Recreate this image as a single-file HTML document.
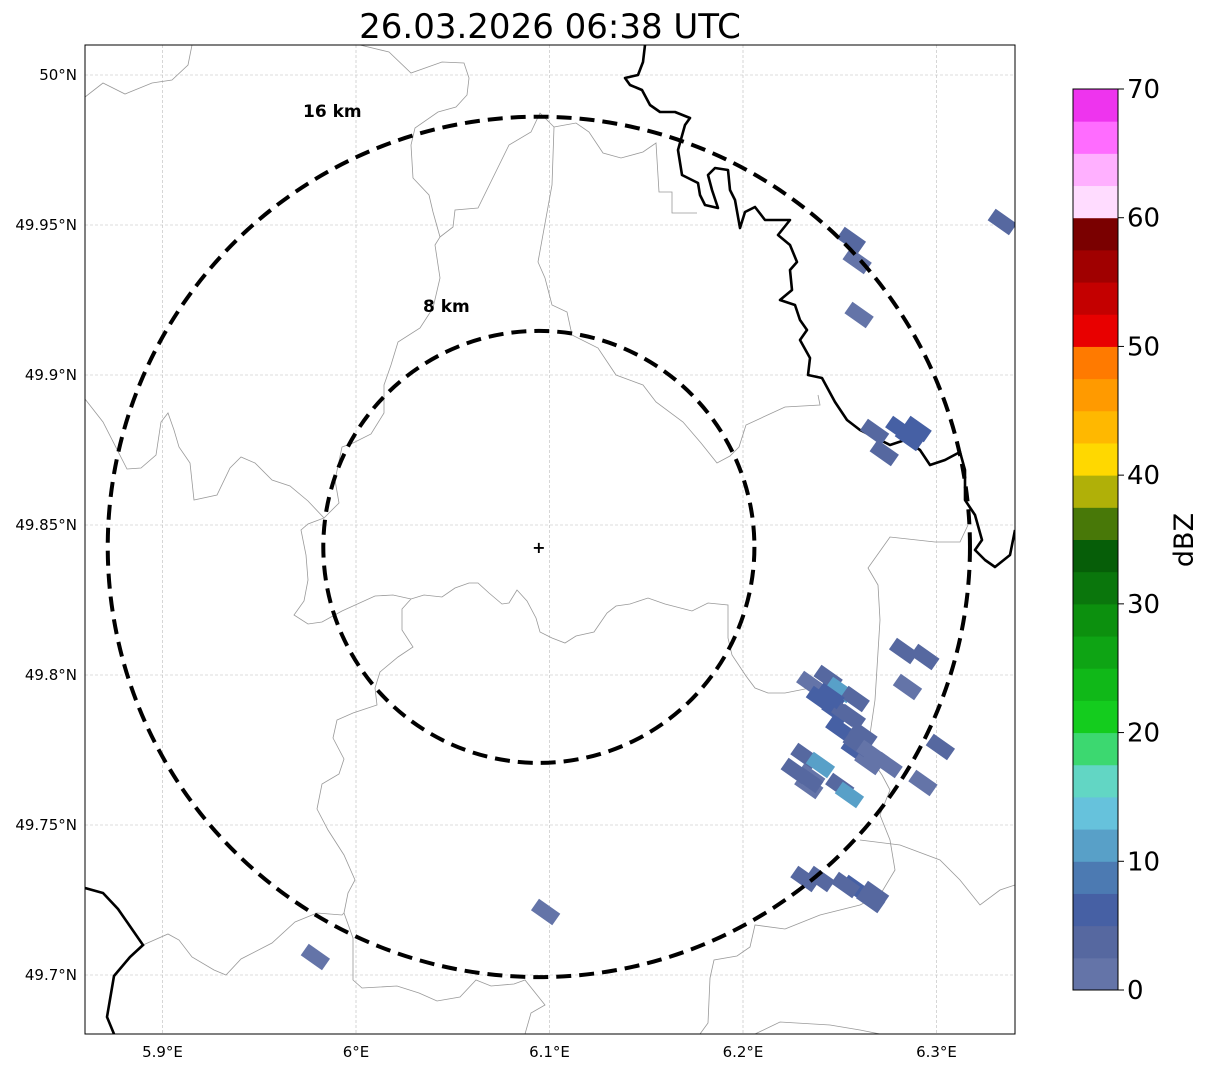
<!DOCTYPE html>
<html><head><meta charset="utf-8">
<style>
html,body{margin:0;padding:0;background:#fff;}
body{width:1207px;height:1069px;overflow:hidden;font-family:"DejaVu Sans","Liberation Sans",sans-serif;}
</style></head>
<body>
<svg id="chart" width="1207" height="1069" xmlns="http://www.w3.org/2000/svg" style="font-family:'DejaVu Sans','Liberation Sans',sans-serif">
<text x="550" y="38" font-size="34" text-anchor="middle">26.03.2026 06:38 UTC</text>
<defs><clipPath id="mapclip"><rect x="85" y="45" width="930" height="989"/></clipPath></defs>
<g id="map" clip-path="url(#mapclip)">
  <g id="grid"></g>
  <g id="borders" fill="none" stroke="#999" stroke-width="0.8">
    <polyline points="85,97 103,83 125,94 152,83 172,80 188,65 192,45"/>
    <polyline points="360,45 389,52 411,73 442,62 464,63 469,78 467,95 456,107 438,112 415,128 411,145 413,178 429,195 433,212 440,237 435,245 440,278 433,308 420,328 398,342 391,365 384,385 384,413 371,434 353,443 342,447 335,480 339,503 324,518"/>
    <polyline points="440,237 453,227 455,210 478,208 509,145 531,132 540,113 554,127 552,185 538,262 545,278 552,305 567,312 572,335 598,348 616,375 643,385 656,402 683,422 701,443 717,463 730,456 739,447 746,425 785,407 820,405 818,395"/>
    <polyline points="554,127 576,123 589,132 603,153 621,158 643,152 656,143 659,192 672,192 672,213 697,213"/>
    <polyline points="85,399 103,422 127,469 141,468 156,455 161,422 168,413 174,430 179,447 190,463 194,500 217,495 230,468 241,457 255,463 272,480 290,486 308,501 324,518 308,524 301,530 306,555 308,580 304,601 294,615 308,624 322,622 342,611 375,596 393,595 411,599 424,595 442,597 455,588 469,583 478,583 489,593 502,604 509,603 517,590 527,601 536,618 540,632 552,638 565,643 576,636 594,632 607,613 616,606 630,604 648,598 665,604 692,611 708,603 728,605 728,638 732,655 746,676 755,688 768,693 785,693"/>
    <polyline points="411,599 402,609 402,630 413,647 398,657 380,672 375,688 377,705 353,713 337,720 333,738 344,759 339,774 322,784 317,809 328,830 344,855 355,880 348,893 344,913 353,938 353,980 362,988 397,986 419,993 437,1001 460,997 476,980 491,986 514,984 525,980 545,1005 531,1013 525,1034"/>
    <polyline points="143,945 168,934 179,940 192,957 214,970 226,975 241,959 272,943 295,922 317,913 342,915 344,913"/>
    <polyline points="785,929 755,925 750,947 737,956 714,960 710,978 708,1023 700,1034"/>
    <polyline points="755,1034 780,1022 830,1025 860,1030 880,1034"/>
    <polyline points="785,929 820,915 860,905 880,895 895,870 890,840 880,815 890,790 882,775 872,760 868,748 875,700 880,620 878,585 868,568 890,537 935,542 960,542 968,525"/>
    <polyline points="785,693 810,688 840,700 868,748"/>
    <polyline points="860,840 900,845 940,860 960,880 980,905 1000,890 1015,885"/>
  </g>
  <polyline fill="none" stroke="#000" stroke-width="2.6" stroke-linejoin="round" points="645,45 643,62 638,75 625,78 630,85 642,90 650,105 660,112 675,112 690,118 685,125 678,150 682,175 698,183 700,195 705,205 718,208 712,190 708,175 715,168 728,170 730,190 735,200 740,228 745,212 755,207 765,220 790,220 778,235 790,245 797,262 790,270 792,290 780,300 795,305 800,320 807,330 800,340 810,358 808,375 822,378 835,402 847,420 860,430 870,435 890,445 905,440 920,450 930,465 945,460 960,452 965,470 965,500 975,515 982,540 975,550 985,560 995,567 1010,555 1015,530"/>
  <polyline fill="none" stroke="#000" stroke-width="2.6" points="85,888 103,893 118,909 143,945 130,957 114,976 107,1017 114,1034"/>
  <g id="cells"></g>
  <g id="rings"></g>
</g>
<rect x="85" y="45" width="930" height="989" fill="none" stroke="#000" stroke-width="1"/>
<g id="axes" font-size="15"></g>
<g id="cbar"></g>
<text x="1193" y="540" font-size="27" text-anchor="middle" transform="rotate(-90 1193 540)">dBZ</text>
</svg>
<script>
const lonTicks = [5.9, 6.0, 6.1, 6.2, 6.3];
const lonLabels = ["5.9°E", "6°E", "6.1°E", "6.2°E", "6.3°E"];
const latTicks = [49.7, 49.75, 49.8, 49.85, 49.9, 49.95, 50.0];
const latLabels = ["49.7°N", "49.75°N", "49.8°N", "49.85°N", "49.9°N", "49.95°N", "50°N"];
const radarLon = 6.0945, radarLat = 49.8427;
const ringKm = [8, 16];
const ringLatR = [0.072, 0.1434];
const ringLonR = [0.1114, 0.2228];
const cellLon = [6.334,6.256,6.259,6.260,6.281,6.286,6.268,6.273,6.283,6.294,6.285,6.235,6.244,6.250,6.258,6.248,6.250,6.256,6.232,6.240,6.235,6.258,6.265,6.250,6.234,6.255,6.275,6.302,6.293,6.232,6.258,6.266,6.098,5.979,6.245,6.262,6.240,6.253,6.245,6.227,6.234,6.259,6.266,6.290,6.240,6.253,6.268];
const cellLat = [49.951,49.945,49.938,49.920,49.882,49.879,49.881,49.874,49.808,49.806,49.796,49.797,49.799,49.795,49.792,49.788,49.782,49.786,49.773,49.770,49.766,49.775,49.771,49.763,49.763,49.760,49.770,49.776,49.764,49.732,49.729,49.725,49.721,49.706,49.792,49.780,49.792,49.787,49.793,49.768,49.765,49.777,49.774,49.882,49.732,49.730,49.727];
const cellDbz = [4,3,2,2,6,5,3,3,3,3,2,2,4,12,3,6,5,4,4,12,2,5,2,3,2,10,2,3,2,3,5,3,2,1,6,4,5,4,6,3,4,3,2,6,3,4,3];
const cbLevels = [0,2.5,5,7.5,10,12.5,15,17.5,20,22.5,25,27.5,30,32.5,35,37.5,40,42.5,45,47.5,50,52.5,55,57.5,60,62.5,65,67.5];
const cbColors = ["#6474a8","#5668a0","#4660a4","#4c7ab2","#58a0c8","#66c2dc","#62d6c4","#3cd870","#14cc1e","#10b818","#0ea414","#0c900e","#0a760c","#065e08","#487808","#b0b008","#ffd800","#ffb800","#ff9a00","#ff7a00","#e80000","#c40000","#a00000","#7a0000","#ffdcff","#ffb0ff","#ff6cff","#ee34ee"];
const cbTicks = [0,10,20,30,40,50,60,70];

const NS = "http://www.w3.org/2000/svg";
const X = lon => 356 + (lon - 6.0) * 1935;
const Y = lat => 525 - (lat - 49.85) * 3000;
const CB = v => 990 - v / 70 * 901;
function mk(tag, attrs, parent){const e=document.createElementNS(NS,tag);for(const k in attrs)e.setAttribute(k,attrs[k]);parent.appendChild(e);return e;}

const grid = document.getElementById('grid');
lonTicks.forEach(v=>{const l=mk('line',{x1:X(v),x2:X(v),y1:45,y2:1034,stroke:'#bbb','stroke-width':0.6,'stroke-dasharray':'3,2'},grid);

});
latTicks.forEach(v=>{const l=mk('line',{x1:85,x2:1015,y1:Y(v),y2:Y(v),stroke:'#bbb','stroke-width':0.6,'stroke-dasharray':'3,2'},grid);

});

const axes = document.getElementById('axes');
lonTicks.forEach((v,i)=>{const t=mk('text',{x:X(v),y:1057,'text-anchor':'middle'},axes);t.textContent=lonLabels[i];

});
latTicks.forEach((v,i)=>{const t=mk('text',{x:77,y:Y(v)+5,'text-anchor':'end'},axes);t.textContent=latLabels[i];

});

function colorFor(v){let c=cbColors[0];cbLevels.forEach((l,i)=>{if(v>=l)c=cbColors[i];});return c;}
const cells = document.getElementById('cells');
const cx0 = X(radarLon), cy0 = Y(radarLat);
cellLon.forEach((lon,i)=>{
  const x=X(lon), y=Y(cellLat[i]);
  const r=mk('rect',{x:x-13,y:y-7,width:26,height:14,fill:colorFor(cellDbz[i]),transform:`rotate(35 ${x} ${y})`},cells);
  
  
});

const rings = document.getElementById('rings');
ringKm.forEach((k,i)=>{
  const e=mk('ellipse',{cx:cx0,cy:cy0,rx:ringLonR[i]*1935,ry:ringLatR[i]*3000,fill:'none',stroke:'#000','stroke-width':4,'stroke-dasharray':'15,8'},rings);
  
  
});
const lbl16=mk('text',{x:303,y:117,'font-size':17,'font-weight':'bold'},rings);lbl16.textContent='16 km';


const lbl8=mk('text',{x:423,y:312,'font-size':17,'font-weight':'bold'},rings);lbl8.textContent='8 km';


const mark=mk('text',{x:cx0,y:cy0+6,'font-size':16,'font-weight':'bold','text-anchor':'middle'},rings);mark.textContent='+';



const cbar=document.getElementById('cbar');
cbLevels.forEach((l,i)=>{const top=CB(l+2.5), bot=CB(l);
  const r=mk('rect',{x:1073,y:top,width:45,height:bot-top+0.5,fill:cbColors[i]},cbar);
  
  });
mk('rect',{x:1073,y:89,width:45,height:901,fill:'none',stroke:'#000','stroke-width':1},cbar);
cbTicks.forEach(v=>{mk('line',{x1:1118,x2:1124,y1:CB(v),y2:CB(v),stroke:'#000'},cbar);
  const t=mk('text',{x:1127,y:CB(v)+9,'font-size':26},cbar);t.textContent=v;
  
  });
</script>
</body></html>
